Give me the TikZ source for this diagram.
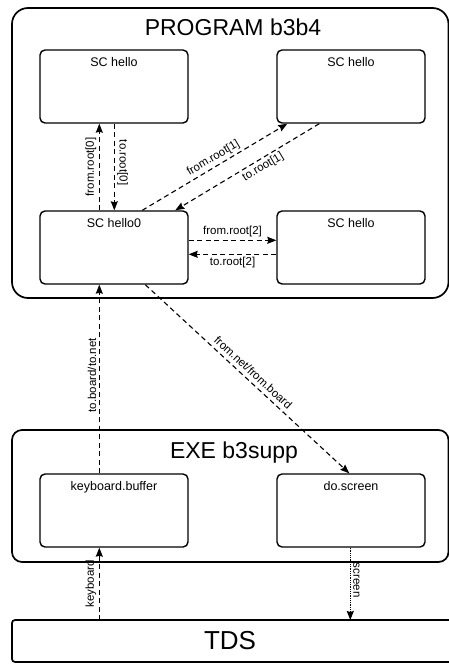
\documentclass[tikz,border=0pt]{standalone}
\usepackage{fontspec}
\setmainfont{Liberation Sans}
\usetikzlibrary{arrows.meta,calc}
\begin{document}
\begin{tikzpicture}[x=1pt,y=-1pt,
  outerbox/.style={draw, line width=1.7pt},
  innerbox/.style={draw, line width=1.4pt, rounded corners=5pt, minimum width=148pt, minimum height=73pt, inner sep=0pt},
  title/.style={font=\fontsize{23}{25}\selectfont, anchor=base},
  boxlbl/.style={font=\fontsize{12.5}{14}\selectfont},
  conn/.style={line width=1.1pt, dash pattern=on 5pt off 3.5pt, -{Stealth[length=9pt,width=7pt,inset=1pt]}},
  dotconn/.style={line width=1.1pt, dash pattern=on 1pt off 0.8pt, -{Stealth[length=9pt,width=7pt,inset=1pt]}},
  elbl/.style={font=\fontsize{11.5}{13}\selectfont, inner sep=2.5pt, sloped}
]
\useasboundingbox (0,0) rectangle (449,664);
\clip (0,0) rectangle (449,664);
% outer containers
\draw[outerbox, rounded corners=16pt] (12,8) rectangle (448.5,298);
\node[title] (ptitle) at (233,35) {PROGRAM b3b4};
\draw[outerbox, rounded corners=10pt] (12,430) rectangle (448.5,562);
\node[title] (etitle) at (234,458) {EXE b3supp};
\draw[outerbox, rounded corners=3pt] (12,620) rectangle (470,662);
\node[title, font=\fontsize{26}{28}\selectfont] (tdstitle) at (230,649) {TDS};
\coordinate (tds) at (230,620);
% inner boxes
\node[innerbox, label={[boxlbl, anchor=base, yshift=-17pt]north:SC hello}] (s1) at (114,86.5) {};
\node[innerbox, label={[boxlbl, anchor=base, yshift=-17pt]north:SC hello}] (s2) at (351,86.5) {};
\node[innerbox, label={[boxlbl, anchor=base, yshift=-17pt]north:SC hello0}] (h0) at (114,247.5) {};
\node[innerbox, label={[boxlbl, anchor=base, yshift=-17pt]north:SC hello}] (s3) at (351,247.5) {};
\node[innerbox, label={[boxlbl, anchor=base, yshift=-17pt]north:keyboard.buffer}] (kb) at (114,510.5) {};
\node[innerbox, label={[boxlbl, anchor=base, yshift=-17pt]north:do.screen}] (ds) at (351,510.5) {};
% connectors inside PROGRAM
\draw[conn] ([xshift=60pt]h0.north west) -- node[elbl, above] {from.root[0]} ([xshift=60pt]s1.south west);
\draw[conn] ([xshift=75pt]s1.south west) -- node[elbl, above, pos=0.45] {to.root[0]} ([xshift=75pt]h0.north west);
\draw[conn] ([xshift=103pt]h0.north west) -- node[elbl, above, pos=0.52] {from.root[1]} ([xshift=11pt]s2.south west);
\draw[conn] ([xshift=43pt]s2.south west) -- node[elbl, below, pos=0.42] {to.root[1]} ([xshift=136pt]h0.north west);
\draw[conn] ([yshift=-30pt]h0.north east) -- node[elbl, above] {from.root[2]} ([yshift=-30pt]s3.north west);
\draw[conn] ([yshift=-44pt]s3.north west) -- node[elbl, below] {to.root[2]} ([yshift=-44pt]h0.north east);
% connectors between layers
\draw[conn] ([xshift=60pt]kb.north west) -- node[elbl, above, pos=0.52] {to.board/to.net} ([xshift=60pt]h0.south west);
\draw[conn] ([xshift=106pt]h0.south west) -- node[elbl, above, pos=0.5, inner sep=4pt] {from.net/from.board} ([xshift=73pt]ds.north west);
\coordinate (kx) at ([xshift=60pt]kb.south west);
\coordinate (sx) at ([xshift=74pt]ds.south west);
\draw[conn] (kx |- tds) -- node[elbl, above] {keyboard} (kx);
\draw[dotconn] (sx) -- node[elbl, above, pos=0.45] {screen} (sx |- tds);
\end{tikzpicture}
\end{document}
